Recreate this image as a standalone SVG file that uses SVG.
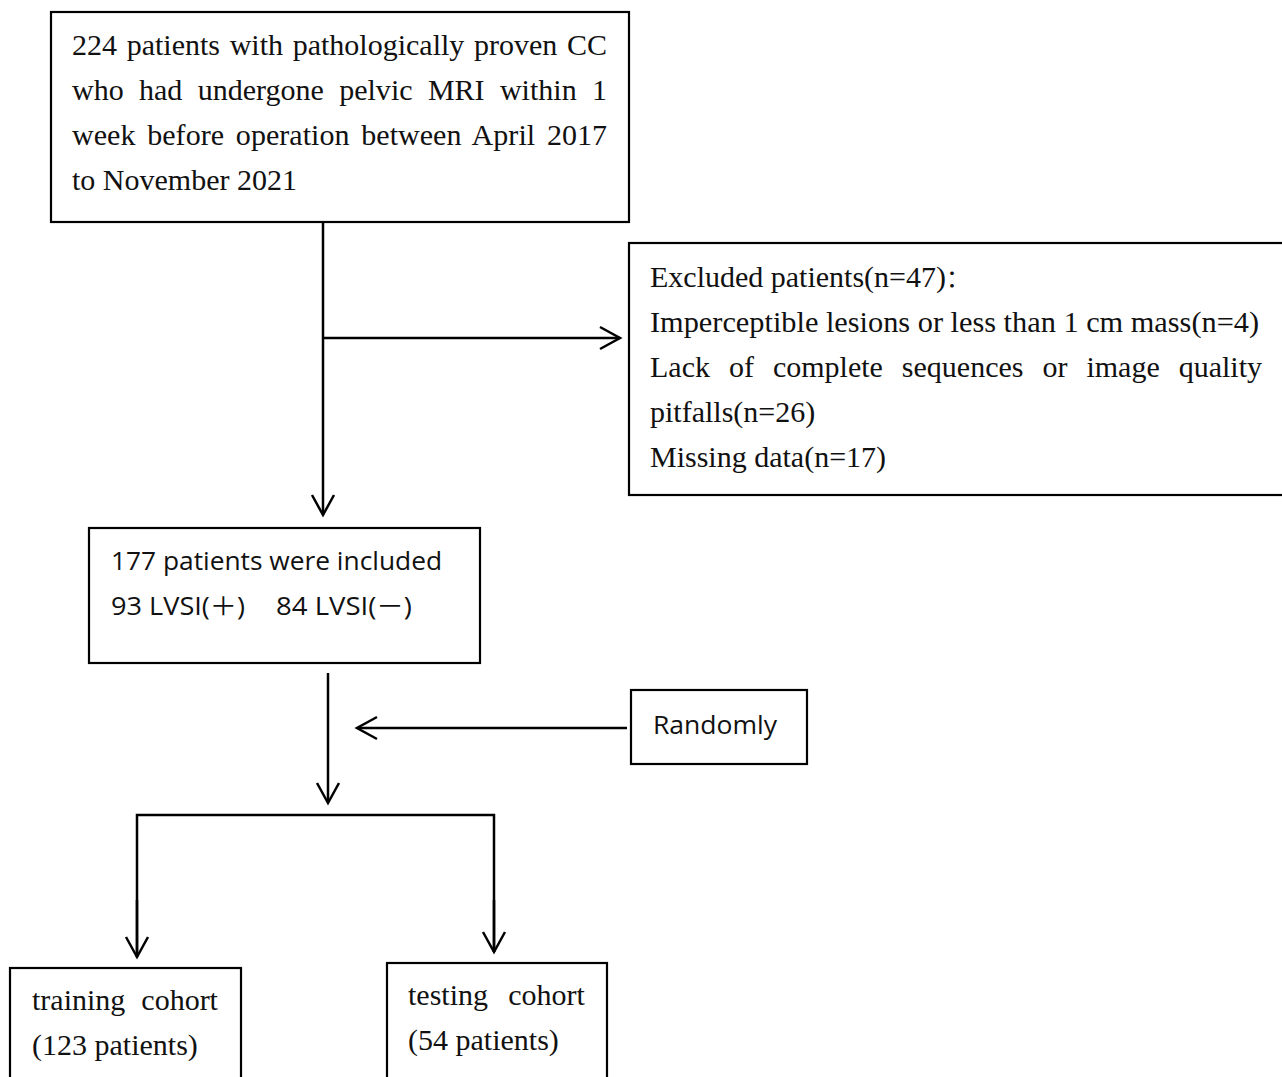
<svg xmlns="http://www.w3.org/2000/svg" width="1282" height="1077" viewBox="0 0 1282 1077">
<style>
.box{fill:#fff;stroke:#000;stroke-width:2.2}
.ln{fill:none;stroke:#000;stroke-width:2.5}
.serif{font-family:"Liberation Serif","Times New Roman",serif;font-size:30px;fill:#111}
.sans{font-family:"Open Sans","Noto Sans","Liberation Sans",sans-serif;font-size:25px;fill:#111}
</style>
<defs>
<marker id="ah" viewBox="-24 -14 27 28" markerWidth="27" markerHeight="28" refX="0" refY="0" orient="auto" markerUnits="userSpaceOnUse">
<path d="M-20,-11 L0,0 L-20,11" fill="none" stroke="#000" stroke-width="2.5"/>
</marker>
</defs>
<rect width="1282" height="1077" fill="#fff"/>
<g id="connectors">
<line class="ln" x1="323" y1="222" x2="323" y2="515" marker-end="url(#ah)"/>
<line class="ln" x1="323" y1="338" x2="620" y2="338" marker-end="url(#ah)"/>
<line class="ln" x1="328" y1="673" x2="328" y2="803" marker-end="url(#ah)"/>
<line class="ln" x1="627" y1="728" x2="357" y2="728" marker-end="url(#ah)"/>
<polyline class="ln" points="137,957 137,815 494,815 494,952"/>
<line class="ln" x1="137" y1="900" x2="137" y2="957" marker-end="url(#ah)"/>
<line class="ln" x1="494" y1="900" x2="494" y2="952" marker-end="url(#ah)"/>
</g>
<g id="node-source">
<rect class="box" x="51" y="12" width="578" height="210"/>
<text class="serif" x="72" y="55" word-spacing="2.2" textLength="535" lengthAdjust="spacing">224 patients with pathologically proven CC</text>
<text class="serif" x="72" y="100" word-spacing="7.8" textLength="535" lengthAdjust="spacing">who had undergone pelvic MRI within 1</text>
<text class="serif" x="72" y="145" word-spacing="4.2" textLength="535" lengthAdjust="spacing">week before operation between April 2017</text>
<text class="serif" x="72" y="190">to November 2021</text>
</g>
<g id="node-excluded">
<rect class="box" x="629" y="243" width="660" height="252"/>
<text class="serif" x="650" y="287">Excluded patients(n=47)<tspan font-family="'Noto Sans CJK SC',sans-serif" font-size="24">：</tspan></text>
<text class="serif" x="650" y="332" textLength="609" lengthAdjust="spacingAndGlyphs">Imperceptible lesions or less than 1 cm mass(n=4)</text>
<text class="serif" x="650" y="377" word-spacing="11.5" textLength="612" lengthAdjust="spacing">Lack of complete sequences or image quality</text>
<text class="serif" x="650" y="422">pitfalls(n=26)</text>
<text class="serif" x="650" y="467">Missing data(n=17)</text>
</g>
<g id="node-included">
<rect class="box" x="89" y="528" width="391" height="135"/>
<text class="sans" x="111" y="570" textLength="331" lengthAdjust="spacingAndGlyphs">177 patients were included</text>
<text class="sans" x="111" y="615" textLength="134" lengthAdjust="spacingAndGlyphs">93 LVSI(<tspan font-family="'Noto Sans CJK SC',sans-serif">＋</tspan>)</text>
<text class="sans" x="276" y="615" textLength="136" lengthAdjust="spacingAndGlyphs">84 LVSI(<tspan font-family="'Noto Sans CJK SC',sans-serif">－</tspan>)</text>
</g>
<g id="node-randomly">
<rect class="box" x="631" y="690" width="176" height="74"/>
<text class="sans" x="653" y="734" textLength="124" lengthAdjust="spacingAndGlyphs">Randomly</text>
</g>
<g id="node-training">
<rect class="box" x="10" y="968" width="231" height="120"/>
<text class="serif" x="32" y="1010" word-spacing="8.5">training cohort</text>
<text class="serif" x="32" y="1055">(123 patients)</text>
</g>
<g id="node-testing">
<rect class="box" x="387" y="963" width="220" height="125"/>
<text class="serif" x="408" y="1005" word-spacing="12.8">testing cohort</text>
<text class="serif" x="408" y="1050">(54 patients)</text>
</g>
</svg>
